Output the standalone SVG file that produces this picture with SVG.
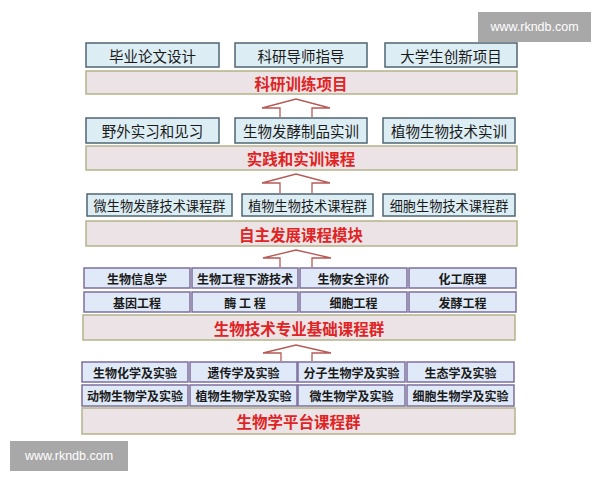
<svg xmlns="http://www.w3.org/2000/svg" width="600" height="480" viewBox="0 0 600 480">
<style>
.box{fill:#dcedf4;stroke:#4f6673;stroke-width:1.5}
.bar{fill:#ebe3e6;stroke:#b4b48a;stroke-width:1.5}
.cell{fill:#dfe9f8;stroke:#7d6f9c;stroke-width:1.5}
.arr{fill:#ffffff;stroke:#b55a55;stroke-width:1.3}
.t{font-family:"Noto Sans CJK SC","Noto Sans",sans-serif;font-size:14.5px;fill:#1a1a1a;text-anchor:middle;dominant-baseline:central}
.t3{font-family:"Noto Sans CJK SC","Noto Sans",sans-serif;font-size:13.2px;fill:#1a1a1a;text-anchor:middle;dominant-baseline:central}
.bt{font-family:"Noto Sans CJK SC","Noto Sans",sans-serif;font-size:15.5px;font-weight:bold;fill:#e02424;text-anchor:middle;dominant-baseline:central}
.ct{font-family:"Noto Sans CJK SC","Noto Sans",sans-serif;font-size:12px;font-weight:bold;fill:#1a1a1a;text-anchor:middle;dominant-baseline:central}
.wm{fill:#a8a8a8}
.wt{font-family:"Liberation Sans",Arial,sans-serif;font-size:12.5px;fill:#ffffff;text-anchor:middle;dominant-baseline:central}
</style>
<rect width="600" height="480" fill="#ffffff"/>

<g id="connectors">
<polyline class="arr" points="280,117 280,108 262,108 296,99 330,108 312,108 312,117"/>
<polyline class="arr" points="280,193 280,183 262,183 296,174 330,183 312,183 312,193"/>
<polyline class="arr" points="280,267 280,258 263,258 296,250 331,258 312,258 312,267"/>
<polyline class="arr" points="281,361 281,353 263,353 296,345 331,353 312,353 312,361"/>
</g>

<g id="n-biye"><rect class="box" x="86" y="43" width="133" height="24"/><text class="t" x="152.5" y="55">毕业论文设计</text></g>
<g id="n-daoshi"><rect class="box" x="235" y="43" width="132" height="24"/><text class="t" x="301" y="55">科研导师指导</text></g>
<g id="n-chuangxin"><rect class="box" x="385" y="43" width="132" height="24"/><text class="t" x="451" y="55">大学生创新项目</text></g>
<g id="n-keyan"><rect class="bar" x="86" y="71" width="431" height="23"/><text class="bt" x="301" y="82.5">科研训练项目</text></g>

<g id="n-yewai"><rect class="box" x="86" y="118" width="133" height="25"/><text class="t" x="152.5" y="130.5">野外实习和见习</text></g>
<g id="n-fajiao"><rect class="box" x="235" y="118" width="132" height="25"/><text class="t" x="301" y="130.5">生物发酵制品实训</text></g>
<g id="n-zhiwu"><rect class="box" x="383" y="118" width="132" height="25"/><text class="t" x="449" y="130.5">植物生物技术实训</text></g>
<g id="n-shijian"><rect class="bar" x="86" y="146" width="431" height="24"/><text class="bt" x="301" y="158">实践和实训课程</text></g>

<g id="n-wsw"><rect class="box" x="87" y="194" width="145" height="22"/><text class="t3" x="159.5" y="205">微生物发酵技术课程群</text></g>
<g id="n-zwjs"><rect class="box" x="242" y="194" width="131" height="22"/><text class="t3" x="307.5" y="205">植物生物技术课程群</text></g>
<g id="n-xbjs"><rect class="box" x="383" y="194" width="132" height="22"/><text class="t3" x="449" y="205">细胞生物技术课程群</text></g>
<g id="n-zizhu"><rect class="bar" x="86" y="221" width="431" height="25"/><text class="bt" x="301" y="233.5">自主发展课程模块</text></g>

<g id="n-xinxi"><rect class="cell" x="84" y="268" width="106" height="20"/><text class="ct" x="137" y="278">生物信息学</text></g>
<g id="n-xiayou"><rect class="cell" x="192" y="268" width="106" height="20"/><text class="ct" x="245" y="278">生物工程下游技术</text></g>
<g id="n-anquan"><rect class="cell" x="300" y="268" width="107" height="20"/><text class="ct" x="353.5" y="278">生物安全评价</text></g>
<g id="n-huagong"><rect class="cell" x="409" y="268" width="107" height="20"/><text class="ct" x="462.5" y="278">化工原理</text></g>
<g id="n-jiyin"><rect class="cell" x="84" y="292" width="106" height="20"/><text class="ct" x="137" y="302">基因工程</text></g>
<g id="n-mei"><rect class="cell" x="192" y="292" width="106" height="20"/><text class="ct" x="245" y="302">酶 工 程</text></g>
<g id="n-xibao"><rect class="cell" x="300" y="292" width="107" height="20"/><text class="ct" x="353.5" y="302">细胞工程</text></g>
<g id="n-fajiaogc"><rect class="cell" x="409" y="292" width="107" height="20"/><text class="ct" x="462.5" y="302">发酵工程</text></g>
<g id="n-jichu"><rect class="bar" x="83" y="315" width="432" height="25"/><text class="bt" x="299" y="327.5">生物技术专业基础课程群</text></g>

<g id="n-shenghua"><rect class="cell" x="82" y="362" width="106" height="20"/><text class="ct" x="135" y="372">生物化学及实验</text></g>
<g id="n-yichuan"><rect class="cell" x="190" y="362" width="107" height="20"/><text class="ct" x="243.5" y="372">遗传学及实验</text></g>
<g id="n-fenzi"><rect class="cell" x="298" y="362" width="107" height="20"/><text class="ct" x="351.5" y="372">分子生物学及实验</text></g>
<g id="n-shengtai"><rect class="cell" x="407" y="362" width="107" height="20"/><text class="ct" x="460.5" y="372">生态学及实验</text></g>
<g id="n-dongwu"><rect class="cell" x="82" y="385" width="106" height="21"/><text class="ct" x="135" y="395.5">动物生物学及实验</text></g>
<g id="n-zhiwuxue"><rect class="cell" x="190" y="385" width="107" height="21"/><text class="ct" x="243.5" y="395.5">植物生物学及实验</text></g>
<g id="n-weisw"><rect class="cell" x="298" y="385" width="107" height="21"/><text class="ct" x="351.5" y="395.5">微生物学及实验</text></g>
<g id="n-xibaosw"><rect class="cell" x="407" y="385" width="107" height="21"/><text class="ct" x="460.5" y="395.5">细胞生物学及实验</text></g>
<g id="n-pingtai"><rect class="bar" x="82" y="408" width="433" height="26"/><text class="bt" x="298.5" y="421">生物学平台课程群</text></g>

<g id="watermarks">
<rect class="wm" x="478" y="12" width="113" height="30"/><text class="wt" x="534.5" y="27">www.rkndb.com</text>
<rect class="wm" x="10" y="441" width="118" height="30"/><text class="wt" x="69" y="456">www.rkndb.com</text>
</g>
</svg>
